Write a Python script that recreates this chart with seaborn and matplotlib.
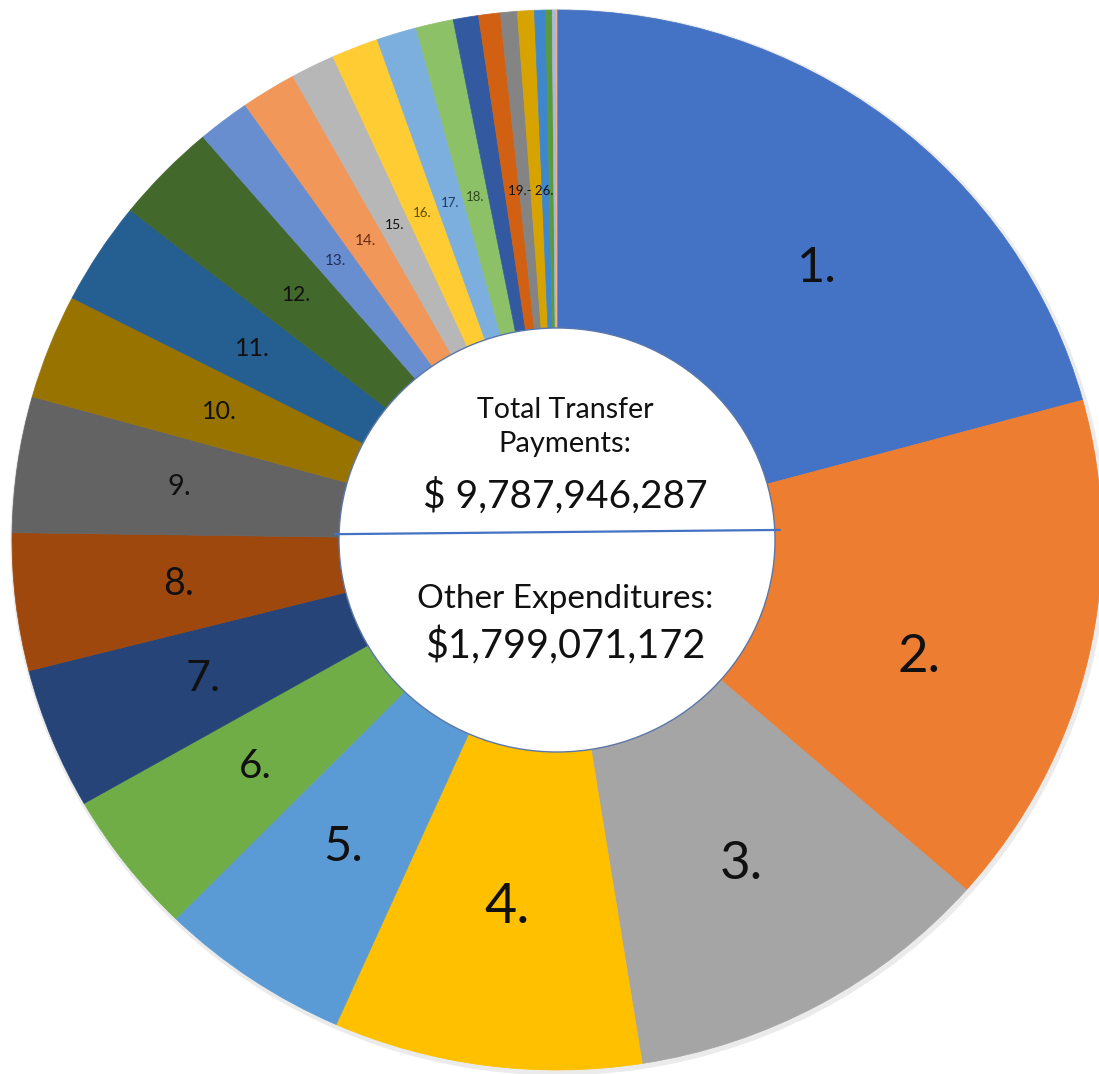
import numpy as np
import matplotlib
matplotlib.use("Agg")
import matplotlib.pyplot as plt
import seaborn as sns
from matplotlib.patches import Circle, Ellipse

# ---------------------------
# Data (shares of total transfer payments, %)
# ---------------------------
categories = [f"{i}." for i in range(1, 27)]
shares = [20.75, 15.72, 11.03, 9.14, 5.69, 4.39, 4.31, 4.19, 4.14, 3.19,
          3.14, 3.06, 1.56, 1.64, 1.31, 1.39, 1.19, 1.11, 0.75, 0.64,
          0.50, 0.50, 0.33, 0.19, 0.11, 0.03]
group_label = "19.- 26."   # slices 19..26 share one label
n_labeled = 18

total_label = "$ 9,787,946,287"
other_label = "$1,799,071,172"

# Excel-like palette
colors = ["#4472C4", "#ED7D31", "#A5A5A5", "#FFC000", "#5B9BD5", "#70AD47",
          "#264478", "#9E480E", "#636363", "#997300", "#255E91", "#43682B",
          "#698ED0", "#F1975A", "#B7B7B7", "#FFCD33", "#7CAFDD", "#8CC168",
          "#335AA1", "#D26012", "#848484", "#D6A300", "#3F87CC", "#5B9A3A",
          "#A9B8E0", "#F4B183"]
label_sizes = [35, 38, 38, 40, 35, 29, 31, 27, 21, 18, 18, 15, 11, 11, 10,
               9.5, 9.5, 9.5]
label_colors = ["#111111"] * 12 + ["#1F2F5C", "#6B2A10", "#111111",
                                   "#5C4A00", "#1F3864", "#2F4A1F"]

sns.set_theme(style="white")
plt.rcParams["font.family"] = ["Lato", "DejaVu Sans"]

fig = plt.figure(figsize=(10.99, 10.74), dpi=100)
ax = fig.add_axes([0, 0, 1, 1])

# faint shadow behind the ring
ax.add_patch(Ellipse((0.003, -0.004), 2.012, 2.012, facecolor="#ebebeb",
                     edgecolor="none", zorder=0))

wedges, _ = ax.pie(shares, colors=colors, startangle=90, counterclock=False,
                   radius=1.0, wedgeprops=dict(width=0.6, linewidth=0.5))
for w in wedges:
    w.set_edgecolor(w.get_facecolor())
    w.set_zorder(1)

# labels in the middle of the ring
def ring_pos(theta_deg, r):
    t = np.deg2rad(theta_deg)
    return r * np.cos(t), r * np.sin(t)

for i in range(n_labeled):
    w = wedges[i]
    mid = (w.theta1 + w.theta2) / 2
    if i < 2:
        mid -= 5.5
    r = 0.70 if i < 9 else 0.665
    x, y = ring_pos(mid, r)
    ax.text(x, y, categories[i], ha="center", va="center",
            fontsize=label_sizes[i], color=label_colors[i], zorder=5)

grp_mid = (wedges[n_labeled].theta1 + wedges[-1].theta2) / 2
gx, gy = ring_pos(grp_mid, 0.66)
ax.text(gx, gy, group_label, ha="center", va="center", fontsize=9.5,
        color="#111111", zorder=5)

# center hole and text
ax.add_patch(Circle((0, 0), 0.4, facecolor="white", edgecolor="#5B77A8",
                    linewidth=1.0, zorder=3))
ax.plot([-0.407, 0.409], [0.011, 0.019], color="#4472C4", lw=1.6, zorder=4)

cx = 0.015
ax.text(cx, 0.230, "Total Transfer", ha="center", va="baseline",
        fontsize=20.5, color="#111111", zorder=5)
ax.text(cx, 0.166, "Payments:", ha="center", va="baseline",
        fontsize=21, color="#111111", zorder=5)
ax.text(cx, 0.060, total_label, ha="center", va="baseline",
        fontsize=28, color="#111111", zorder=5)
ax.text(cx, -0.128, "Other Expenditures:", ha="center", va="baseline",
        fontsize=24, color="#111111", zorder=5)
ax.text(cx, -0.223, other_label, ha="center", va="baseline",
        fontsize=28.5, color="#111111", zorder=5)

ax.set_aspect("auto")
ax.set_xlim(-557 / 545, (1099 - 557) / 545)
ax.set_ylim(-(1074 - 540) / 530, 540 / 530)
ax.axis("off")

fig.savefig("out.png", dpi=100, facecolor="white")
